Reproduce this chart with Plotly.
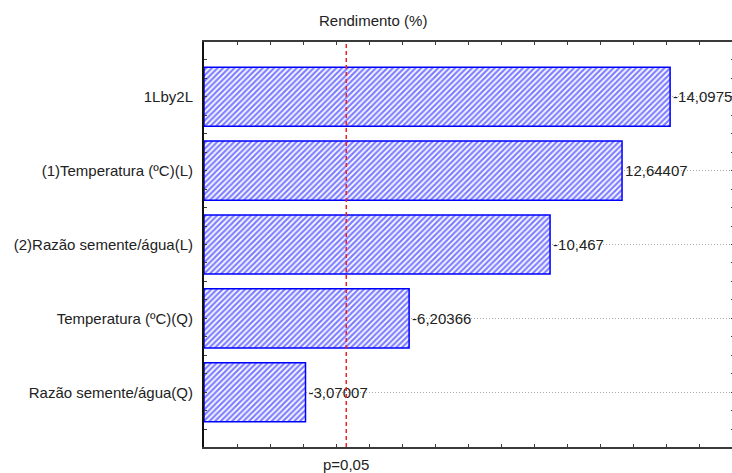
import plotly.graph_objects as go

categories = ["1Lby2L", "(1)Temperatura (ºC)(L)", "(2)Razão semente/água(L)",
              "Temperatura (ºC)(Q)", "Razão semente/água(Q)"]
effects = [-14.0975, 12.64407, -10.467, -6.20366, -3.07007]
p_limit = 4.303
p_label = "p=0,05"
title_text = "Rendimento (%)"

abs_vals = [abs(v) for v in effects]
labels = [str(v).replace(".", ",") for v in effects]

font = "Liberation Sans, Arial, sans-serif"
axis_col = "#3a3a3a"
txt_col = "#222222"

fig = go.Figure()
fig.add_trace(go.Bar(
    x=abs_vals, y=categories, orientation="h", width=0.8,
    marker=dict(color="white", line=dict(color="#0000ff", width=1.5),
                pattern=dict(shape="/", fgcolor="#0000ff", bgcolor="white",
                             size=4, solidity=0.55)),
    text=labels, textposition="outside", cliponaxis=False,
    textfont=dict(family=font, size=15, color=txt_col),
    showlegend=False, hoverinfo="skip",
))
fig.add_trace(go.Scatter(x=[], y=[], yaxis="y2", showlegend=False, hoverinfo="skip"))

yrange = [4.74, -0.74]
fig.update_layout(
    width=734, height=473,
    margin=dict(l=204, r=0, t=42, b=26, autoexpand=False),
    paper_bgcolor="white", plot_bgcolor="white",
    font=dict(family=font, size=15, color=txt_col),
    xaxis=dict(range=[0, 16.03], showgrid=False, zeroline=False, automargin=False,
               showline=True, linecolor=axis_col, linewidth=2, mirror="ticks",
               ticks="inside", ticklen=3, tickcolor=axis_col, dtick=1, tick0=0,
               showticklabels=False),
    yaxis=dict(type="category", range=yrange, showgrid=True, automargin=False,
               gridcolor="#aaaaaa", griddash="1px,2px", gridwidth=1,
               showline=False, ticks="", zeroline=False, ticklabelstandoff=10,
               tickfont=dict(family=font, size=15, color=txt_col)),
    yaxis2=dict(overlaying="y", anchor="x", side="left", range=yrange,
                tick0=0, dtick=0.25, ticks="inside", ticklen=3, tickcolor=axis_col,
                showticklabels=False, showgrid=False, zeroline=False, automargin=False,
                showline=True, linecolor="#111111", linewidth=2, mirror="ticks"),
    shapes=[dict(type="line", xref="x", yref="paper", x0=p_limit, x1=p_limit,
                 y0=0, y1=1, line=dict(color="#ee2222", width=1.5, dash="4px,3px"))],
    annotations=[
        dict(text=title_text, xref="paper", yref="paper", x=0.319, y=1.054,
             showarrow=False, xanchor="center", yanchor="middle",
             font=dict(family=font, size=15, color=txt_col)),
        dict(text=p_label, xref="x", yref="paper", x=p_limit, y=-0.044,
             showarrow=False, xanchor="center", yanchor="middle",
             font=dict(family=font, size=15, color=txt_col)),
    ],
)
fig.write_html(
    "out.html",
    config={"displayModeBar": False},
    post_script="document.body.style.margin='0';document.body.style.overflow='hidden';",
)
